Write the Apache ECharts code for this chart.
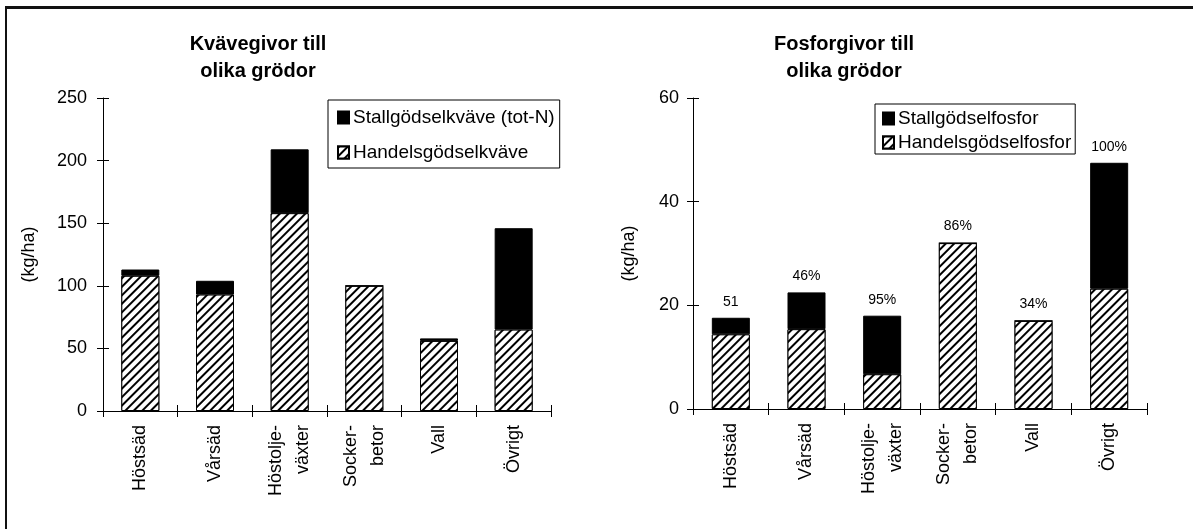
<!DOCTYPE html>
<html>
<head>
<meta charset="utf-8">
<script src="https://cdn.jsdelivr.net/npm/echarts@6/dist/echarts.min.js"></script>
<style>
  html, body { margin: 0; padding: 0; background: #fff; }
  #chart { width: 1193px; height: 529px; }
  #frame {
    position: absolute; left: 5px; top: 6px; right: 0; bottom: 0;
    border-top: 3px solid #111; border-left: 2px solid #111;
    pointer-events: none;
  }
</style>
</head>
<body>
<div id="chart"></div>
<div id="frame"></div>
<script>
// Crop categories (shared by both panels)
const crops = ['Höstsäd', 'Vårsäd', 'Höstolje-\nväxter', 'Socker-\nbetor', 'Vall', 'Övrigt'];

// Nitrogen (kg/ha)
const nManure = [5, 11, 51, 0, 2, 81];
const nMineral = [108, 93, 158, 100, 56, 65];
const nTicks = { min: 0, max: 250, interval: 50 };

// Phosphorus (kg/ha)
const pManure = [3.2, 7.1, 11.3, 0, 0, 24.3];
const pMineral = [14.4, 15.4, 6.7, 32, 17, 23.2];
const pTicks = { min: 0, max: 60, interval: 20 };
const pShares = ['51', '46%', '95%', '86%', '34%', '100%'];

const FONT = '"Liberation Sans", Arial, Helvetica, sans-serif';

const hatch = {
  symbol: 'rect',
  symbolSize: 1,
  dashArrayX: [1, 0],
  dashArrayY: [2, 4],
  rotation: -Math.PI / 4,
  color: '#000',
  backgroundColor: '#fff'
};

function valueAxes(gridIndex, ticks, nameGap, labelMargin) {
  return [
    {
      type: 'value', gridIndex, min: ticks.min, max: ticks.max, interval: ticks.interval,
      name: '(kg/ha)', nameLocation: 'middle', nameRotate: 90, nameGap,
      nameTextStyle: { fontFamily: FONT, fontSize: 18, color: '#000' },
      axisLine: { show: true, lineStyle: { color: '#000', width: 1 } },
      axisTick: { show: true, length: 6, lineStyle: { color: '#000' } },
      axisLabel: { fontFamily: FONT, fontSize: 18, color: '#000', margin: labelMargin },
      splitLine: { show: false }
    },
    {
      // inner half of the crossing ticks
      type: 'value', gridIndex, position: 'left', offset: 0,
      min: ticks.min, max: ticks.max, interval: ticks.interval,
      axisLine: { show: false },
      axisTick: { show: true, inside: true, length: 6, lineStyle: { color: '#000' } },
      axisLabel: { show: false },
      splitLine: { show: false }
    }
  ];
}

function categoryAxes(gridIndex) {
  return [
    {
      type: 'category', gridIndex, data: crops, position: 'bottom',
      axisLine: { lineStyle: { color: '#000', width: 1 } },
      axisTick: { show: true, length: 6, lineStyle: { color: '#000' } },
      axisLabel: {
        rotate: 90, interval: 0, margin: 14,
        fontFamily: FONT, fontSize: 18, color: '#000', lineHeight: 27
      }
    },
    {
      type: 'category', gridIndex, data: crops, position: 'bottom', offset: 0,
      axisLine: { show: false },
      axisTick: { show: true, inside: true, length: 6, lineStyle: { color: '#000' } },
      axisLabel: { show: false }
    }
  ];
}

const chart = echarts.init(document.getElementById('chart'), null, { renderer: 'canvas' });

chart.setOption({
  animation: false,
  backgroundColor: '#fff',
  title: [
    {
      text: 'Kvävegivor till\nolika grödor', left: 258, top: 31, textAlign: 'center', padding: 0,
      textStyle: { fontFamily: FONT, fontSize: 20, fontWeight: 'bold', color: '#000', lineHeight: 27 }
    },
    {
      text: 'Fosforgivor till\nolika grödor', left: 844, top: 31, textAlign: 'center', padding: 0,
      textStyle: { fontFamily: FONT, fontSize: 20, fontWeight: 'bold', color: '#000', lineHeight: 27 }
    }
  ],
  legend: [
    {
      data: ['Stallgödselkväve (tot-N)', 'Handelsgödselkväve'],
      orient: 'vertical', left: 328, top: 100, icon: 'rect',
      borderColor: '#000', borderWidth: 1, padding: [8, 5, 6, 9],
      itemWidth: 11, itemHeight: 12, itemGap: 16,
      textStyle: { fontFamily: FONT, fontSize: 19, color: '#000', padding: [0, 0, 0, -1] }
    },
    {
      data: ['Stallgödselfosfor', 'Handelsgödselfosfor'],
      orient: 'vertical', left: 875, top: 104, icon: 'rect',
      borderColor: '#000', borderWidth: 1, padding: [5, 4, 2, 7],
      itemWidth: 11, itemHeight: 12, itemGap: 5,
      textStyle: { fontFamily: FONT, fontSize: 19, color: '#000', padding: [0, 0, 0, -1] }
    }
  ],
  grid: [
    { left: 103, right: 642, top: 98, bottom: 118 },
    { left: 693, right: 46, top: 98, bottom: 120 }
  ],
  xAxis: [...categoryAxes(0), ...categoryAxes(1)],
  yAxis: [...valueAxes(0, nTicks, 65, 16), ...valueAxes(1, pTicks, 55, 14)],
  series: [
    {
      name: 'Handelsgödselkväve', type: 'bar', stack: 'n', xAxisIndex: 0, yAxisIndex: 0,
      data: nMineral, barWidth: 38,
      itemStyle: { color: '#fff', borderColor: '#000', borderWidth: 1, decal: hatch }
    },
    {
      name: 'Stallgödselkväve (tot-N)', type: 'bar', stack: 'n', xAxisIndex: 0, yAxisIndex: 0,
      data: nManure, barWidth: 38,
      itemStyle: { color: '#000', borderColor: '#000', borderWidth: 1 }
    },
    {
      name: 'Handelsgödselfosfor', type: 'bar', stack: 'p', xAxisIndex: 2, yAxisIndex: 2,
      data: pMineral, barWidth: 38,
      itemStyle: { color: '#fff', borderColor: '#000', borderWidth: 1, decal: hatch }
    },
    {
      name: 'Stallgödselfosfor', type: 'bar', stack: 'p', xAxisIndex: 2, yAxisIndex: 2,
      data: pManure, barWidth: 38,
      itemStyle: { color: '#000', borderColor: '#000', borderWidth: 1 },
      label: {
        show: true, position: 'top', distance: 9,
        fontFamily: FONT, fontSize: 14, color: '#000',
        formatter: p => pShares[p.dataIndex]
      }
    }
  ]
});
</script>
</body>
</html>
